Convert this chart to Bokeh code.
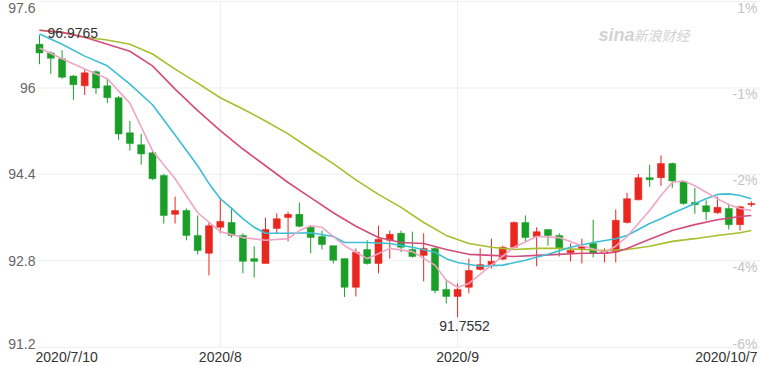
from bokeh.plotting import figure
from bokeh.models import Range1d, Label, ColumnDataSource
from bokeh.core.properties import value
from bokeh.embed import file_html
from bokeh.resources import INLINE

# ---------------- data ----------------
opens = [96.81, 96.65, 96.54, 96.22, 96.04, 96.30, 96.04, 95.82, 95.17, 94.95,
         94.80, 94.38, 93.66, 93.73, 93.27, 92.94, 93.42, 93.51, 93.27, 92.84,
         92.75, 93.40, 93.60, 93.66, 93.42, 93.25, 93.08, 92.84, 92.31, 93.01,
         92.75, 93.18, 93.31, 93.01, 92.90, 93.03, 92.27, 92.14, 92.31, 92.64,
         92.73, 92.83, 93.05, 93.51, 93.25, 93.38, 93.27, 92.95, 93.03, 93.12,
         92.94, 92.97, 93.51, 93.93, 94.34, 94.34, 94.60, 94.27, 93.88, 93.82,
         93.69, 93.77, 93.47, 93.84]
highs = [96.9765, 96.68, 96.70, 96.24, 96.35, 96.33, 96.17, 95.85, 95.39, 95.15,
         94.84, 94.41, 93.99, 93.77, 93.64, 93.51, 93.97, 93.79, 93.31, 93.07,
         93.60, 93.68, 93.71, 93.88, 93.45, 93.36, 93.08, 92.84, 93.03, 93.18,
         93.45, 93.36, 93.36, 93.34, 93.31, 93.05, 92.46, 92.38, 92.84, 93.03,
         93.21, 93.08, 93.53, 93.64, 93.42, 93.38, 93.31, 93.12, 93.21, 93.56,
         93.03, 93.75, 94.06, 94.41, 94.58, 94.75, 94.62, 94.28, 94.15, 93.92,
         93.99, 93.86, 93.82, 93.90]
lows = [96.44, 96.26, 96.17, 95.78, 95.87, 95.89, 95.72, 95.04, 94.84, 94.58,
        94.30, 93.49, 93.49, 93.18, 92.92, 92.53, 93.31, 93.23, 92.57, 92.49,
        92.75, 93.31, 93.16, 93.42, 92.94, 93.01, 92.75, 92.13, 92.14, 92.73,
        92.57, 92.84, 92.96, 92.86, 92.42, 92.20, 92.01, 91.7552, 92.20, 92.62,
        92.66, 92.81, 93.03, 93.14, 92.70, 93.08, 92.88, 92.79, 92.75, 92.86,
        92.77, 92.77, 93.49, 93.92, 94.17, 94.19, 94.15, 93.84, 93.67, 93.55,
        93.67, 93.38, 93.36, 93.80]
closes = [96.65, 96.55, 96.20, 96.06, 96.28, 96.00, 95.82, 95.15, 94.97, 94.78,
          94.32, 93.64, 93.73, 93.27, 92.99, 93.45, 93.53, 93.27, 92.79, 92.79,
          93.38, 93.58, 93.66, 93.44, 93.23, 93.10, 92.81, 92.31, 92.96, 92.75,
          93.20, 93.29, 93.05, 92.88, 93.03, 92.25, 92.14, 92.27, 92.62, 92.73,
          92.79, 93.05, 93.51, 93.23, 93.34, 93.27, 93.03, 92.99, 93.06, 92.94,
          92.99, 93.55, 93.95, 94.34, 94.30, 94.60, 94.28, 93.86, 93.84, 93.71,
          93.79, 93.47, 93.80, 93.86]

# moving-average lines, read at selected candle positions
ma5_idx = [0, 2, 4, 6, 8, 10, 12, 14, 16, 18, 20, 22, 23, 24, 25, 27, 29, 31, 33, 35,
           36, 37, 38, 40, 42, 44, 46, 48, 50, 51, 52, 54, 55, 56, 57, 58, 60, 61, 62, 63]
ma5_val = [96.74, 96.54, 96.35, 96.17, 95.72, 94.84, 94.32, 93.69, 93.34, 93.23,
           93.18, 93.21, 93.36, 93.45, 93.42, 93.08, 92.84, 93.03, 92.97, 92.72,
           92.44, 92.31, 92.38, 92.72, 93.05, 93.25, 93.23, 93.08, 92.96, 93.07,
           93.25, 93.73, 94.01, 94.25, 94.28, 94.19, 93.95, 93.84, 93.77, 93.73]
ma10_idx = [0, 2, 4, 6, 8, 10, 12, 14, 15, 16, 17, 18, 19, 20, 22, 24, 26, 27, 29, 31,
            33, 35, 36, 37, 39, 41, 43, 45, 47, 49, 51, 52, 53, 54, 55, 56, 57, 58, 59,
            60, 61, 62, 63]
ma10_val = [97.00, 96.81, 96.59, 96.41, 96.07, 95.69, 95.13, 94.56, 94.23, 93.95,
            93.77, 93.58, 93.42, 93.31, 93.31, 93.32, 93.25, 93.14, 93.14, 93.12,
            93.05, 92.96, 92.84, 92.77, 92.70, 92.72, 92.81, 92.92, 93.05, 93.14,
            93.21, 93.27, 93.38, 93.49, 93.58, 93.68, 93.77, 93.86, 93.95, 94.03,
            94.04, 94.01, 93.95]
ma20_idx = [0, 2, 4, 6, 8, 10, 12, 14, 16, 18, 20, 22, 24, 26, 28, 30, 32, 34, 36, 38,
            40, 42, 44, 46, 48, 50, 51, 52, 54, 56, 58, 60, 62, 63]
ma20_val = [97.07, 97.03, 96.94, 96.81, 96.68, 96.41, 95.98, 95.58, 95.21, 94.87,
            94.56, 94.25, 93.97, 93.69, 93.44, 93.23, 93.14, 93.12, 93.01, 92.92,
            92.90, 92.88, 92.90, 92.92, 92.94, 92.94, 92.96, 93.03, 93.20, 93.36,
            93.47, 93.56, 93.62, 93.64]
ma30_idx = [0, 2, 4, 6, 8, 10, 12, 14, 16, 18, 20, 22, 24, 26, 28, 30, 32, 34, 36, 38,
            40, 42, 44, 46, 48, 50, 52, 54, 56, 58, 60, 62, 63]
ma30_val = [97.07, 97.03, 96.94, 96.89, 96.81, 96.63, 96.35, 96.09, 95.82, 95.61,
            95.39, 95.15, 94.87, 94.60, 94.30, 94.03, 93.79, 93.51, 93.27, 93.12,
            93.05, 93.01, 93.03, 93.03, 93.01, 92.99, 93.01, 93.07, 93.16, 93.21,
            93.27, 93.32, 93.36]

price_ticks = [91.2, 92.8, 94.4, 96.0, 97.6]
price_labels = ["91.2", "92.8", "94.4", "96", "97.6"]
pct_labels = ["-6%", "-4%", "-2%", "-1%", "1%"]
date_ticks = [0, 16, 37, 63]
date_labels = ["2020/7/10", "2020/8", "2020/9", "2020/10/7"]
max_label = "96.9765"
min_label = "91.7552"

# ---------------- styling ----------------
UP = "#e8271f"
DOWN = "#1b9e28"
C5, C10, C20, C30 = "#eea6c6", "#3cbfd4", "#d44c7c", "#a7bf2e"
GRID = "#ededed"
FONT = value("Liberation Sans")

n = len(opens)
idx = list(range(n))
up = [c >= o for o, c in zip(opens, closes)]
colors = [UP if u else DOWN for u in up]
src = ColumnDataSource(dict(
    x=idx, open=opens, close=closes, high=highs, low=lows,
    top=[max(o, c) for o, c in zip(opens, closes)],
    bottom=[min(o, c) for o, c in zip(opens, closes)],
    color=colors))

x0, x1 = -3.451, 63.81
y0, y1 = 90.843, 97.620
p = figure(width=760, height=366, output_backend="svg", toolbar_location=None,
           x_range=Range1d(x0, x1), y_range=Range1d(y0, y1),
           min_border=0, outline_line_color=None)
p.axis.visible = False
p.grid.visible = False
p.background_fill_color = "white"

# grid lines
gl = -0.18
p.segment(x0=[gl] * len(price_ticks), x1=[x1] * len(price_ticks), y0=price_ticks, y1=price_ticks,
          line_color=GRID, line_width=1)
p.segment(x0=date_ticks[1:3], x1=date_ticks[1:3], y0=[price_ticks[0]] * 2, y1=[y1] * 2,
          line_color=GRID, line_width=1)

# candles
p.segment(x0="x", x1="x", y0="low", y1="high", color="color", line_width=1, source=src)
p.vbar(x="x", top="top", bottom="bottom", width=0.62, fill_color="color", line_color="color",
       line_width=0.5, source=src)

# moving averages
for xs, ys, c in [(ma30_idx, ma30_val, C30), (ma20_idx, ma20_val, C20),
                  (ma10_idx, ma10_val, C10), (ma5_idx, ma5_val, C5)]:
    p.line(xs, ys, line_color=c, line_width=1.6)

# left price labels
lx = -0.35
p.text(x=[lx], y=[price_ticks[4]], text=[price_labels[4]], text_align="right",
       text_baseline="top", y_offset=1, text_font=FONT, text_font_size="14px", text_color="#666666")
p.text(x=[lx] * 3, y=price_ticks[1:4], text=price_labels[1:4], text_align="right",
       text_baseline="middle", text_font=FONT, text_font_size="14px", text_color="#666666")
p.text(x=[lx], y=[price_ticks[0]], text=[price_labels[0]], text_align="right",
       text_baseline="alphabetic", y_offset=-3, text_font=FONT, text_font_size="14px",
       text_color="#666666")

# right percentage labels
rx = 63.54
p.text(x=[rx] * 4, y=price_ticks[1:], text=pct_labels[1:], text_align="right",
       text_baseline="top", y_offset=-2, text_font=FONT, text_font_size="14px", text_color="#c4c4c4")
p.text(x=[rx], y=[price_ticks[0]], text=[pct_labels[0]], text_align="right",
       text_baseline="alphabetic", y_offset=-3, text_font=FONT, text_font_size="14px",
       text_color="#c4c4c4")

# date labels
dy = price_ticks[0]
p.text(x=[-0.35], y=[dy], text=[date_labels[0]], text_align="left", text_baseline="top",
       y_offset=2, text_font=FONT, text_font_size="14px", text_color="#333333")
p.text(x=date_ticks[1:3], y=[dy] * 2, text=date_labels[1:3], text_align="center", text_baseline="top",
       y_offset=2, text_font=FONT, text_font_size="14px", text_color="#333333")
p.text(x=[rx], y=[dy], text=[date_labels[3]], text_align="right", text_baseline="top",
       y_offset=2, text_font=FONT, text_font_size="14px", text_color="#333333")

# extreme annotations
imax = highs.index(max(highs))
imin = lows.index(min(lows))
p.text(x=[imax], y=[highs[imax]], text=[max_label], text_align="left", text_baseline="alphabetic",
       x_offset=8, y_offset=-2, text_font=FONT, text_font_size="14px", text_color="#333333")
p.text(x=[imin], y=[lows[imin]], text=[min_label], text_align="center", text_baseline="top",
       x_offset=7, y_offset=4, text_font=FONT, text_font_size="14px", text_color="#333333")

# watermark
p.add_layout(Label(x=598, y=332, x_units="screen", y_units="screen", text="sina",
                   text_font="Liberation Sans", text_font_style="bold italic", text_font_size="18px",
                   text_color="#d2d2d2", text_baseline="middle"))
p.add_layout(Label(x=633, y=332, x_units="screen", y_units="screen", text="新浪财经",
                   text_font="Noto Sans CJK SC", text_font_size="14px", text_font_style="italic",
                   text_color="#d2d2d2", text_baseline="middle"))

open("out.html", "w").write(file_html(p, INLINE))
